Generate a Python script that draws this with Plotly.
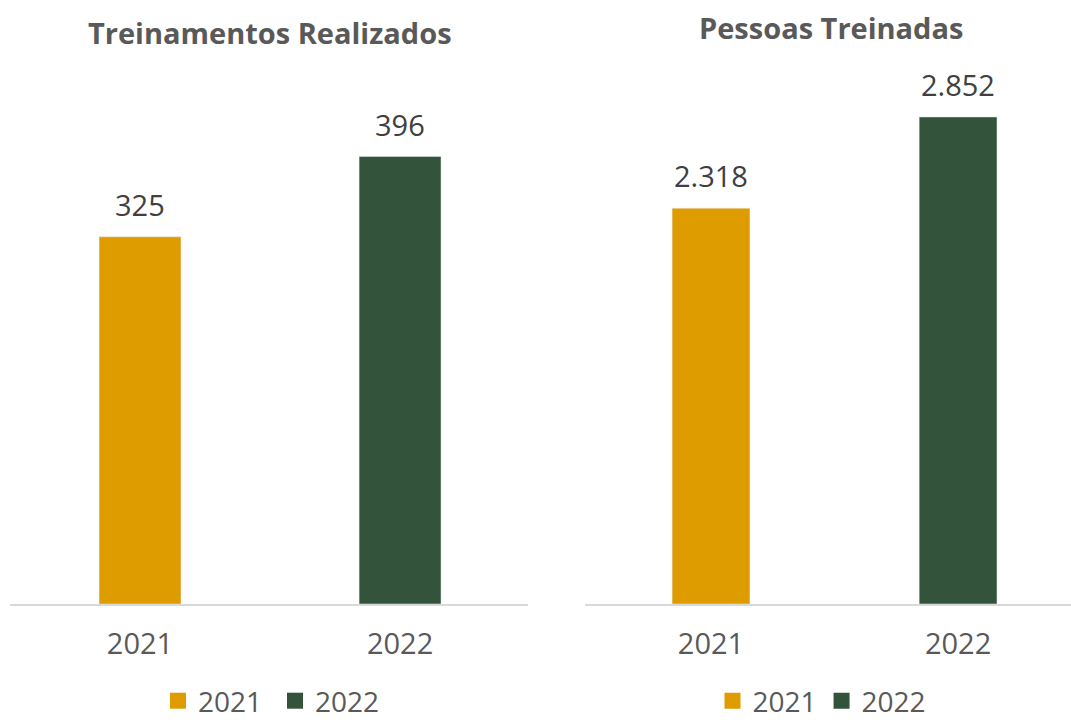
import plotly.graph_objects as go

# ---- data ----
years = ["2021", "2022"]
treinamentos = [325, 396]
pessoas = [2318, 2852]
titles = ["Treinamentos Realizados", "Pessoas Treinadas"]
colors = ["#DE9C00", "#34533B"]

FONT = "Open Sans"
W, H = 1071, 720

def fmt(v):
    return f"{v:,}".replace(",", ".")

fig = go.Figure()

# left chart
for i, (yr, v) in enumerate(zip(years, treinamentos)):
    fig.add_trace(go.Bar(x=[yr], y=[v], name=yr, marker_color=colors[i],
                         width=0.315, xaxis="x", yaxis="y", showlegend=False,
                         hoverinfo="skip"))
# right chart
for i, (yr, v) in enumerate(zip(years, pessoas)):
    fig.add_trace(go.Bar(x=[yr], y=[v], name=yr, marker_color=colors[i],
                         width=0.315, xaxis="x2", yaxis="y2", showlegend=False,
                         hoverinfo="skip"))

# legend entries (square swatches)
for lg, xa, ya in (("legend", "x", "y"), ("legend2", "x2", "y2")):
    for i, yr in enumerate(years):
        fig.add_trace(go.Scatter(x=[None], y=[None], mode="markers", name=yr,
                                 marker=dict(symbol="square", size=16, color=colors[i]),
                                 xaxis=xa, yaxis=ya, legend=lg, showlegend=True,
                                 hoverinfo="skip"))

base = (H - 604) / H
top = (H - 60) / H
plot_h = 544

annotations = []
for i, v in enumerate(treinamentos):
    annotations.append(dict(x=i, y=v, xref="x", yref="y", text=fmt(v),
                            showarrow=False, yanchor="bottom", yshift=11,
                            font=dict(family=FONT, size=29, color="#404040")))
for i, v in enumerate(pessoas):
    annotations.append(dict(x=i, y=v, xref="x2", yref="y2", text=fmt(v),
                            showarrow=False, yanchor="bottom", yshift=11,
                            font=dict(family=FONT, size=29, color="#404040")))
annotations.append(dict(x=270 / W, y=(H - 33) / H, xref="paper", yref="paper",
                        text="<b>" + titles[0] + "</b>", showarrow=False,
                        xanchor="center", yanchor="middle",
                        font=dict(family=FONT, size=29, color="#595959")))
annotations.append(dict(x=831 / W, y=(H - 28) / H, xref="paper", yref="paper",
                        text="<b>" + titles[1] + "</b>", showarrow=False,
                        xanchor="center", yanchor="middle",
                        font=dict(family=FONT, size=29, color="#595959")))

axis_common = dict(showgrid=False, zeroline=False, showline=True,
                   linecolor="#D9D9D9", linewidth=2, ticks="",
                   tickfont=dict(family=FONT, size=29, color="#595959"),
                   ticklabelstandoff=13, fixedrange=True)

legend_common = dict(orientation="h", xanchor="center", yanchor="middle",
                     font=dict(family=FONT, size=28, color="#595959"),
                     bgcolor="rgba(0,0,0,0)", traceorder="normal",
                     itemclick=False, itemdoubleclick=False)

fig.update_layout(
    width=W, height=H,
    margin=dict(l=0, r=0, t=0, b=0, autoexpand=False),
    paper_bgcolor="white", plot_bgcolor="white",
    barmode="overlay",
    showlegend=True,
    xaxis=dict(domain=[10 / W, 528 / W], range=[-0.5, 1.492],
               type="category", anchor="y", **axis_common),
    yaxis=dict(domain=[base, top], range=[0, plot_h / 1.130], visible=False,
               fixedrange=True),
    xaxis2=dict(domain=[585 / W, 1.0], range=[-0.51, 1.457],
                type="category", anchor="y2", **axis_common),
    yaxis2=dict(domain=[base, top], range=[0, plot_h / 0.17077], visible=False,
                fixedrange=True),
    legend=dict(x=275 / W, y=(H - 701) / H, entrywidth=72, **legend_common),
    legend2=dict(x=822 / W, y=(H - 701) / H, **legend_common),
    annotations=annotations,
)

post = (
    "document.documentElement.style.margin='0';"
    "document.body.style.margin='0';"
    "document.body.style.overflow='hidden';"
    "var gd=document.getElementsByClassName('plotly-graph-div')[0];"
    "gd.style.position='fixed';gd.style.left='0';gd.style.top='0';"
)

fig.write_html("out.html", config={"displayModeBar": False}, post_script=post)
